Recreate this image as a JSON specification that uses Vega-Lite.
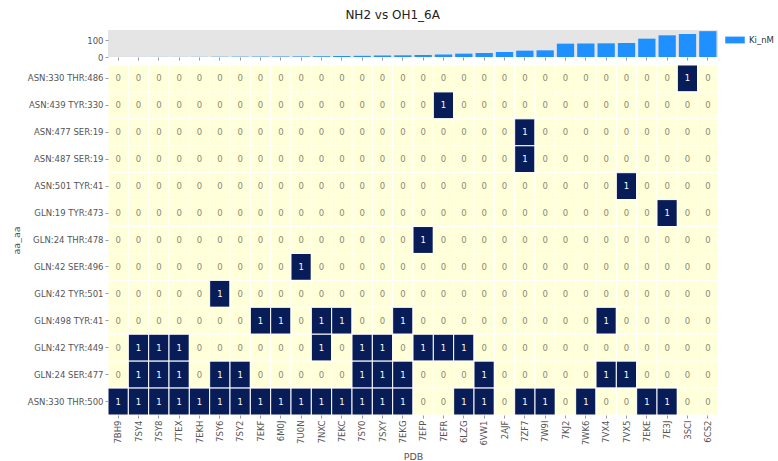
{
"$schema": "https://vega.github.io/schema/vega-lite/v6.json",
"padding": {"left": 11, "top": 9, "right": 2, "bottom": 4},
"config": {"font": "DejaVu Sans", "view": {"stroke": null},
 "axis": {"labelColor": "#555", "tickColor": "#999", "domain": false, "labelFontSize": 8.5, "titleFontSize": 9.5, "titleFontWeight": "normal", "titleColor": "#555", "tickSize": 3, "labelPadding": 2},
 "concat": {"spacing": 2}},
"title": {"text": "NH2 vs OH1_6A", "fontSize": 12, "fontWeight": "normal", "color": "#222", "anchor": "middle", "offset": 8},
"datasets": {
"ki": [
{"p":"7BH9","ki":0.2},{"p":"7SY4","ki":0.3},{"p":"7SY8","ki":0.4},{"p":"7TEX","ki":0.5},{"p":"7EKH","ki":0.8},
{"p":"7SY6","ki":1.5},{"p":"7SY2","ki":2},{"p":"7EKF","ki":2.5},{"p":"6M0J","ki":3},{"p":"7U0N","ki":3.5},
{"p":"7NXC","ki":4.5},{"p":"7EKC","ki":6},{"p":"7SY0","ki":7},{"p":"7SXY","ki":9},{"p":"7EKG","ki":10},
{"p":"7EFP","ki":12},{"p":"7EFR","ki":15},{"p":"6LZG","ki":20},{"p":"6VW1","ki":24},{"p":"2AJF","ki":30},
{"p":"7ZF7","ki":38},{"p":"7W9I","ki":40},{"p":"7KJ2","ki":80},{"p":"7WK6","ki":81},{"p":"7VX4","ki":82},
{"p":"7VX5","ki":84},{"p":"7EKE","ki":110},{"p":"7E3J","ki":130},{"p":"3SCI","ki":138},{"p":"6CS2","ki":155}
],
"cells": [
{"a":"ASN:330 THR:486","p":"7BH9","v":0},{"a":"ASN:330 THR:486","p":"7SY4","v":0},{"a":"ASN:330 THR:486","p":"7SY8","v":0},{"a":"ASN:330 THR:486","p":"7TEX","v":0},{"a":"ASN:330 THR:486","p":"7EKH","v":0},{"a":"ASN:330 THR:486","p":"7SY6","v":0},{"a":"ASN:330 THR:486","p":"7SY2","v":0},{"a":"ASN:330 THR:486","p":"7EKF","v":0},{"a":"ASN:330 THR:486","p":"6M0J","v":0},{"a":"ASN:330 THR:486","p":"7U0N","v":0},{"a":"ASN:330 THR:486","p":"7NXC","v":0},{"a":"ASN:330 THR:486","p":"7EKC","v":0},{"a":"ASN:330 THR:486","p":"7SY0","v":0},{"a":"ASN:330 THR:486","p":"7SXY","v":0},{"a":"ASN:330 THR:486","p":"7EKG","v":0},{"a":"ASN:330 THR:486","p":"7EFP","v":0},{"a":"ASN:330 THR:486","p":"7EFR","v":0},{"a":"ASN:330 THR:486","p":"6LZG","v":0},{"a":"ASN:330 THR:486","p":"6VW1","v":0},{"a":"ASN:330 THR:486","p":"2AJF","v":0},{"a":"ASN:330 THR:486","p":"7ZF7","v":0},{"a":"ASN:330 THR:486","p":"7W9I","v":0},{"a":"ASN:330 THR:486","p":"7KJ2","v":0},{"a":"ASN:330 THR:486","p":"7WK6","v":0},{"a":"ASN:330 THR:486","p":"7VX4","v":0},{"a":"ASN:330 THR:486","p":"7VX5","v":0},{"a":"ASN:330 THR:486","p":"7EKE","v":0},{"a":"ASN:330 THR:486","p":"7E3J","v":0},{"a":"ASN:330 THR:486","p":"3SCI","v":1},{"a":"ASN:330 THR:486","p":"6CS2","v":0},
{"a":"ASN:439 TYR:330","p":"7BH9","v":0},{"a":"ASN:439 TYR:330","p":"7SY4","v":0},{"a":"ASN:439 TYR:330","p":"7SY8","v":0},{"a":"ASN:439 TYR:330","p":"7TEX","v":0},{"a":"ASN:439 TYR:330","p":"7EKH","v":0},{"a":"ASN:439 TYR:330","p":"7SY6","v":0},{"a":"ASN:439 TYR:330","p":"7SY2","v":0},{"a":"ASN:439 TYR:330","p":"7EKF","v":0},{"a":"ASN:439 TYR:330","p":"6M0J","v":0},{"a":"ASN:439 TYR:330","p":"7U0N","v":0},{"a":"ASN:439 TYR:330","p":"7NXC","v":0},{"a":"ASN:439 TYR:330","p":"7EKC","v":0},{"a":"ASN:439 TYR:330","p":"7SY0","v":0},{"a":"ASN:439 TYR:330","p":"7SXY","v":0},{"a":"ASN:439 TYR:330","p":"7EKG","v":0},{"a":"ASN:439 TYR:330","p":"7EFP","v":0},{"a":"ASN:439 TYR:330","p":"7EFR","v":1},{"a":"ASN:439 TYR:330","p":"6LZG","v":0},{"a":"ASN:439 TYR:330","p":"6VW1","v":0},{"a":"ASN:439 TYR:330","p":"2AJF","v":0},{"a":"ASN:439 TYR:330","p":"7ZF7","v":0},{"a":"ASN:439 TYR:330","p":"7W9I","v":0},{"a":"ASN:439 TYR:330","p":"7KJ2","v":0},{"a":"ASN:439 TYR:330","p":"7WK6","v":0},{"a":"ASN:439 TYR:330","p":"7VX4","v":0},{"a":"ASN:439 TYR:330","p":"7VX5","v":0},{"a":"ASN:439 TYR:330","p":"7EKE","v":0},{"a":"ASN:439 TYR:330","p":"7E3J","v":0},{"a":"ASN:439 TYR:330","p":"3SCI","v":0},{"a":"ASN:439 TYR:330","p":"6CS2","v":0},
{"a":"ASN:477 SER:19","p":"7BH9","v":0},{"a":"ASN:477 SER:19","p":"7SY4","v":0},{"a":"ASN:477 SER:19","p":"7SY8","v":0},{"a":"ASN:477 SER:19","p":"7TEX","v":0},{"a":"ASN:477 SER:19","p":"7EKH","v":0},{"a":"ASN:477 SER:19","p":"7SY6","v":0},{"a":"ASN:477 SER:19","p":"7SY2","v":0},{"a":"ASN:477 SER:19","p":"7EKF","v":0},{"a":"ASN:477 SER:19","p":"6M0J","v":0},{"a":"ASN:477 SER:19","p":"7U0N","v":0},{"a":"ASN:477 SER:19","p":"7NXC","v":0},{"a":"ASN:477 SER:19","p":"7EKC","v":0},{"a":"ASN:477 SER:19","p":"7SY0","v":0},{"a":"ASN:477 SER:19","p":"7SXY","v":0},{"a":"ASN:477 SER:19","p":"7EKG","v":0},{"a":"ASN:477 SER:19","p":"7EFP","v":0},{"a":"ASN:477 SER:19","p":"7EFR","v":0},{"a":"ASN:477 SER:19","p":"6LZG","v":0},{"a":"ASN:477 SER:19","p":"6VW1","v":0},{"a":"ASN:477 SER:19","p":"2AJF","v":0},{"a":"ASN:477 SER:19","p":"7ZF7","v":1},{"a":"ASN:477 SER:19","p":"7W9I","v":0},{"a":"ASN:477 SER:19","p":"7KJ2","v":0},{"a":"ASN:477 SER:19","p":"7WK6","v":0},{"a":"ASN:477 SER:19","p":"7VX4","v":0},{"a":"ASN:477 SER:19","p":"7VX5","v":0},{"a":"ASN:477 SER:19","p":"7EKE","v":0},{"a":"ASN:477 SER:19","p":"7E3J","v":0},{"a":"ASN:477 SER:19","p":"3SCI","v":0},{"a":"ASN:477 SER:19","p":"6CS2","v":0},
{"a":"ASN:487 SER:19","p":"7BH9","v":0},{"a":"ASN:487 SER:19","p":"7SY4","v":0},{"a":"ASN:487 SER:19","p":"7SY8","v":0},{"a":"ASN:487 SER:19","p":"7TEX","v":0},{"a":"ASN:487 SER:19","p":"7EKH","v":0},{"a":"ASN:487 SER:19","p":"7SY6","v":0},{"a":"ASN:487 SER:19","p":"7SY2","v":0},{"a":"ASN:487 SER:19","p":"7EKF","v":0},{"a":"ASN:487 SER:19","p":"6M0J","v":0},{"a":"ASN:487 SER:19","p":"7U0N","v":0},{"a":"ASN:487 SER:19","p":"7NXC","v":0},{"a":"ASN:487 SER:19","p":"7EKC","v":0},{"a":"ASN:487 SER:19","p":"7SY0","v":0},{"a":"ASN:487 SER:19","p":"7SXY","v":0},{"a":"ASN:487 SER:19","p":"7EKG","v":0},{"a":"ASN:487 SER:19","p":"7EFP","v":0},{"a":"ASN:487 SER:19","p":"7EFR","v":0},{"a":"ASN:487 SER:19","p":"6LZG","v":0},{"a":"ASN:487 SER:19","p":"6VW1","v":0},{"a":"ASN:487 SER:19","p":"2AJF","v":0},{"a":"ASN:487 SER:19","p":"7ZF7","v":1},{"a":"ASN:487 SER:19","p":"7W9I","v":0},{"a":"ASN:487 SER:19","p":"7KJ2","v":0},{"a":"ASN:487 SER:19","p":"7WK6","v":0},{"a":"ASN:487 SER:19","p":"7VX4","v":0},{"a":"ASN:487 SER:19","p":"7VX5","v":0},{"a":"ASN:487 SER:19","p":"7EKE","v":0},{"a":"ASN:487 SER:19","p":"7E3J","v":0},{"a":"ASN:487 SER:19","p":"3SCI","v":0},{"a":"ASN:487 SER:19","p":"6CS2","v":0},
{"a":"ASN:501 TYR:41","p":"7BH9","v":0},{"a":"ASN:501 TYR:41","p":"7SY4","v":0},{"a":"ASN:501 TYR:41","p":"7SY8","v":0},{"a":"ASN:501 TYR:41","p":"7TEX","v":0},{"a":"ASN:501 TYR:41","p":"7EKH","v":0},{"a":"ASN:501 TYR:41","p":"7SY6","v":0},{"a":"ASN:501 TYR:41","p":"7SY2","v":0},{"a":"ASN:501 TYR:41","p":"7EKF","v":0},{"a":"ASN:501 TYR:41","p":"6M0J","v":0},{"a":"ASN:501 TYR:41","p":"7U0N","v":0},{"a":"ASN:501 TYR:41","p":"7NXC","v":0},{"a":"ASN:501 TYR:41","p":"7EKC","v":0},{"a":"ASN:501 TYR:41","p":"7SY0","v":0},{"a":"ASN:501 TYR:41","p":"7SXY","v":0},{"a":"ASN:501 TYR:41","p":"7EKG","v":0},{"a":"ASN:501 TYR:41","p":"7EFP","v":0},{"a":"ASN:501 TYR:41","p":"7EFR","v":0},{"a":"ASN:501 TYR:41","p":"6LZG","v":0},{"a":"ASN:501 TYR:41","p":"6VW1","v":0},{"a":"ASN:501 TYR:41","p":"2AJF","v":0},{"a":"ASN:501 TYR:41","p":"7ZF7","v":0},{"a":"ASN:501 TYR:41","p":"7W9I","v":0},{"a":"ASN:501 TYR:41","p":"7KJ2","v":0},{"a":"ASN:501 TYR:41","p":"7WK6","v":0},{"a":"ASN:501 TYR:41","p":"7VX4","v":0},{"a":"ASN:501 TYR:41","p":"7VX5","v":1},{"a":"ASN:501 TYR:41","p":"7EKE","v":0},{"a":"ASN:501 TYR:41","p":"7E3J","v":0},{"a":"ASN:501 TYR:41","p":"3SCI","v":0},{"a":"ASN:501 TYR:41","p":"6CS2","v":0},
{"a":"GLN:19 TYR:473","p":"7BH9","v":0},{"a":"GLN:19 TYR:473","p":"7SY4","v":0},{"a":"GLN:19 TYR:473","p":"7SY8","v":0},{"a":"GLN:19 TYR:473","p":"7TEX","v":0},{"a":"GLN:19 TYR:473","p":"7EKH","v":0},{"a":"GLN:19 TYR:473","p":"7SY6","v":0},{"a":"GLN:19 TYR:473","p":"7SY2","v":0},{"a":"GLN:19 TYR:473","p":"7EKF","v":0},{"a":"GLN:19 TYR:473","p":"6M0J","v":0},{"a":"GLN:19 TYR:473","p":"7U0N","v":0},{"a":"GLN:19 TYR:473","p":"7NXC","v":0},{"a":"GLN:19 TYR:473","p":"7EKC","v":0},{"a":"GLN:19 TYR:473","p":"7SY0","v":0},{"a":"GLN:19 TYR:473","p":"7SXY","v":0},{"a":"GLN:19 TYR:473","p":"7EKG","v":0},{"a":"GLN:19 TYR:473","p":"7EFP","v":0},{"a":"GLN:19 TYR:473","p":"7EFR","v":0},{"a":"GLN:19 TYR:473","p":"6LZG","v":0},{"a":"GLN:19 TYR:473","p":"6VW1","v":0},{"a":"GLN:19 TYR:473","p":"2AJF","v":0},{"a":"GLN:19 TYR:473","p":"7ZF7","v":0},{"a":"GLN:19 TYR:473","p":"7W9I","v":0},{"a":"GLN:19 TYR:473","p":"7KJ2","v":0},{"a":"GLN:19 TYR:473","p":"7WK6","v":0},{"a":"GLN:19 TYR:473","p":"7VX4","v":0},{"a":"GLN:19 TYR:473","p":"7VX5","v":0},{"a":"GLN:19 TYR:473","p":"7EKE","v":0},{"a":"GLN:19 TYR:473","p":"7E3J","v":1},{"a":"GLN:19 TYR:473","p":"3SCI","v":0},{"a":"GLN:19 TYR:473","p":"6CS2","v":0},
{"a":"GLN:24 THR:478","p":"7BH9","v":0},{"a":"GLN:24 THR:478","p":"7SY4","v":0},{"a":"GLN:24 THR:478","p":"7SY8","v":0},{"a":"GLN:24 THR:478","p":"7TEX","v":0},{"a":"GLN:24 THR:478","p":"7EKH","v":0},{"a":"GLN:24 THR:478","p":"7SY6","v":0},{"a":"GLN:24 THR:478","p":"7SY2","v":0},{"a":"GLN:24 THR:478","p":"7EKF","v":0},{"a":"GLN:24 THR:478","p":"6M0J","v":0},{"a":"GLN:24 THR:478","p":"7U0N","v":0},{"a":"GLN:24 THR:478","p":"7NXC","v":0},{"a":"GLN:24 THR:478","p":"7EKC","v":0},{"a":"GLN:24 THR:478","p":"7SY0","v":0},{"a":"GLN:24 THR:478","p":"7SXY","v":0},{"a":"GLN:24 THR:478","p":"7EKG","v":0},{"a":"GLN:24 THR:478","p":"7EFP","v":1},{"a":"GLN:24 THR:478","p":"7EFR","v":0},{"a":"GLN:24 THR:478","p":"6LZG","v":0},{"a":"GLN:24 THR:478","p":"6VW1","v":0},{"a":"GLN:24 THR:478","p":"2AJF","v":0},{"a":"GLN:24 THR:478","p":"7ZF7","v":0},{"a":"GLN:24 THR:478","p":"7W9I","v":0},{"a":"GLN:24 THR:478","p":"7KJ2","v":0},{"a":"GLN:24 THR:478","p":"7WK6","v":0},{"a":"GLN:24 THR:478","p":"7VX4","v":0},{"a":"GLN:24 THR:478","p":"7VX5","v":0},{"a":"GLN:24 THR:478","p":"7EKE","v":0},{"a":"GLN:24 THR:478","p":"7E3J","v":0},{"a":"GLN:24 THR:478","p":"3SCI","v":0},{"a":"GLN:24 THR:478","p":"6CS2","v":0},
{"a":"GLN:42 SER:496","p":"7BH9","v":0},{"a":"GLN:42 SER:496","p":"7SY4","v":0},{"a":"GLN:42 SER:496","p":"7SY8","v":0},{"a":"GLN:42 SER:496","p":"7TEX","v":0},{"a":"GLN:42 SER:496","p":"7EKH","v":0},{"a":"GLN:42 SER:496","p":"7SY6","v":0},{"a":"GLN:42 SER:496","p":"7SY2","v":0},{"a":"GLN:42 SER:496","p":"7EKF","v":0},{"a":"GLN:42 SER:496","p":"6M0J","v":0},{"a":"GLN:42 SER:496","p":"7U0N","v":1},{"a":"GLN:42 SER:496","p":"7NXC","v":0},{"a":"GLN:42 SER:496","p":"7EKC","v":0},{"a":"GLN:42 SER:496","p":"7SY0","v":0},{"a":"GLN:42 SER:496","p":"7SXY","v":0},{"a":"GLN:42 SER:496","p":"7EKG","v":0},{"a":"GLN:42 SER:496","p":"7EFP","v":0},{"a":"GLN:42 SER:496","p":"7EFR","v":0},{"a":"GLN:42 SER:496","p":"6LZG","v":0},{"a":"GLN:42 SER:496","p":"6VW1","v":0},{"a":"GLN:42 SER:496","p":"2AJF","v":0},{"a":"GLN:42 SER:496","p":"7ZF7","v":0},{"a":"GLN:42 SER:496","p":"7W9I","v":0},{"a":"GLN:42 SER:496","p":"7KJ2","v":0},{"a":"GLN:42 SER:496","p":"7WK6","v":0},{"a":"GLN:42 SER:496","p":"7VX4","v":0},{"a":"GLN:42 SER:496","p":"7VX5","v":0},{"a":"GLN:42 SER:496","p":"7EKE","v":0},{"a":"GLN:42 SER:496","p":"7E3J","v":0},{"a":"GLN:42 SER:496","p":"3SCI","v":0},{"a":"GLN:42 SER:496","p":"6CS2","v":0},
{"a":"GLN:42 TYR:501","p":"7BH9","v":0},{"a":"GLN:42 TYR:501","p":"7SY4","v":0},{"a":"GLN:42 TYR:501","p":"7SY8","v":0},{"a":"GLN:42 TYR:501","p":"7TEX","v":0},{"a":"GLN:42 TYR:501","p":"7EKH","v":0},{"a":"GLN:42 TYR:501","p":"7SY6","v":1},{"a":"GLN:42 TYR:501","p":"7SY2","v":0},{"a":"GLN:42 TYR:501","p":"7EKF","v":0},{"a":"GLN:42 TYR:501","p":"6M0J","v":0},{"a":"GLN:42 TYR:501","p":"7U0N","v":0},{"a":"GLN:42 TYR:501","p":"7NXC","v":0},{"a":"GLN:42 TYR:501","p":"7EKC","v":0},{"a":"GLN:42 TYR:501","p":"7SY0","v":0},{"a":"GLN:42 TYR:501","p":"7SXY","v":0},{"a":"GLN:42 TYR:501","p":"7EKG","v":0},{"a":"GLN:42 TYR:501","p":"7EFP","v":0},{"a":"GLN:42 TYR:501","p":"7EFR","v":0},{"a":"GLN:42 TYR:501","p":"6LZG","v":0},{"a":"GLN:42 TYR:501","p":"6VW1","v":0},{"a":"GLN:42 TYR:501","p":"2AJF","v":0},{"a":"GLN:42 TYR:501","p":"7ZF7","v":0},{"a":"GLN:42 TYR:501","p":"7W9I","v":0},{"a":"GLN:42 TYR:501","p":"7KJ2","v":0},{"a":"GLN:42 TYR:501","p":"7WK6","v":0},{"a":"GLN:42 TYR:501","p":"7VX4","v":0},{"a":"GLN:42 TYR:501","p":"7VX5","v":0},{"a":"GLN:42 TYR:501","p":"7EKE","v":0},{"a":"GLN:42 TYR:501","p":"7E3J","v":0},{"a":"GLN:42 TYR:501","p":"3SCI","v":0},{"a":"GLN:42 TYR:501","p":"6CS2","v":0},
{"a":"GLN:498 TYR:41","p":"7BH9","v":0},{"a":"GLN:498 TYR:41","p":"7SY4","v":0},{"a":"GLN:498 TYR:41","p":"7SY8","v":0},{"a":"GLN:498 TYR:41","p":"7TEX","v":0},{"a":"GLN:498 TYR:41","p":"7EKH","v":0},{"a":"GLN:498 TYR:41","p":"7SY6","v":0},{"a":"GLN:498 TYR:41","p":"7SY2","v":0},{"a":"GLN:498 TYR:41","p":"7EKF","v":1},{"a":"GLN:498 TYR:41","p":"6M0J","v":1},{"a":"GLN:498 TYR:41","p":"7U0N","v":0},{"a":"GLN:498 TYR:41","p":"7NXC","v":1},{"a":"GLN:498 TYR:41","p":"7EKC","v":1},{"a":"GLN:498 TYR:41","p":"7SY0","v":0},{"a":"GLN:498 TYR:41","p":"7SXY","v":0},{"a":"GLN:498 TYR:41","p":"7EKG","v":1},{"a":"GLN:498 TYR:41","p":"7EFP","v":0},{"a":"GLN:498 TYR:41","p":"7EFR","v":0},{"a":"GLN:498 TYR:41","p":"6LZG","v":0},{"a":"GLN:498 TYR:41","p":"6VW1","v":0},{"a":"GLN:498 TYR:41","p":"2AJF","v":0},{"a":"GLN:498 TYR:41","p":"7ZF7","v":0},{"a":"GLN:498 TYR:41","p":"7W9I","v":0},{"a":"GLN:498 TYR:41","p":"7KJ2","v":0},{"a":"GLN:498 TYR:41","p":"7WK6","v":0},{"a":"GLN:498 TYR:41","p":"7VX4","v":1},{"a":"GLN:498 TYR:41","p":"7VX5","v":0},{"a":"GLN:498 TYR:41","p":"7EKE","v":0},{"a":"GLN:498 TYR:41","p":"7E3J","v":0},{"a":"GLN:498 TYR:41","p":"3SCI","v":0},{"a":"GLN:498 TYR:41","p":"6CS2","v":0},
{"a":"GLN:42 TYR:449","p":"7BH9","v":0},{"a":"GLN:42 TYR:449","p":"7SY4","v":1},{"a":"GLN:42 TYR:449","p":"7SY8","v":1},{"a":"GLN:42 TYR:449","p":"7TEX","v":1},{"a":"GLN:42 TYR:449","p":"7EKH","v":0},{"a":"GLN:42 TYR:449","p":"7SY6","v":0},{"a":"GLN:42 TYR:449","p":"7SY2","v":0},{"a":"GLN:42 TYR:449","p":"7EKF","v":0},{"a":"GLN:42 TYR:449","p":"6M0J","v":0},{"a":"GLN:42 TYR:449","p":"7U0N","v":0},{"a":"GLN:42 TYR:449","p":"7NXC","v":1},{"a":"GLN:42 TYR:449","p":"7EKC","v":0},{"a":"GLN:42 TYR:449","p":"7SY0","v":1},{"a":"GLN:42 TYR:449","p":"7SXY","v":1},{"a":"GLN:42 TYR:449","p":"7EKG","v":0},{"a":"GLN:42 TYR:449","p":"7EFP","v":1},{"a":"GLN:42 TYR:449","p":"7EFR","v":1},{"a":"GLN:42 TYR:449","p":"6LZG","v":1},{"a":"GLN:42 TYR:449","p":"6VW1","v":0},{"a":"GLN:42 TYR:449","p":"2AJF","v":0},{"a":"GLN:42 TYR:449","p":"7ZF7","v":0},{"a":"GLN:42 TYR:449","p":"7W9I","v":0},{"a":"GLN:42 TYR:449","p":"7KJ2","v":0},{"a":"GLN:42 TYR:449","p":"7WK6","v":0},{"a":"GLN:42 TYR:449","p":"7VX4","v":0},{"a":"GLN:42 TYR:449","p":"7VX5","v":0},{"a":"GLN:42 TYR:449","p":"7EKE","v":0},{"a":"GLN:42 TYR:449","p":"7E3J","v":0},{"a":"GLN:42 TYR:449","p":"3SCI","v":0},{"a":"GLN:42 TYR:449","p":"6CS2","v":0},
{"a":"GLN:24 SER:477","p":"7BH9","v":0},{"a":"GLN:24 SER:477","p":"7SY4","v":1},{"a":"GLN:24 SER:477","p":"7SY8","v":1},{"a":"GLN:24 SER:477","p":"7TEX","v":1},{"a":"GLN:24 SER:477","p":"7EKH","v":0},{"a":"GLN:24 SER:477","p":"7SY6","v":1},{"a":"GLN:24 SER:477","p":"7SY2","v":1},{"a":"GLN:24 SER:477","p":"7EKF","v":0},{"a":"GLN:24 SER:477","p":"6M0J","v":0},{"a":"GLN:24 SER:477","p":"7U0N","v":0},{"a":"GLN:24 SER:477","p":"7NXC","v":0},{"a":"GLN:24 SER:477","p":"7EKC","v":0},{"a":"GLN:24 SER:477","p":"7SY0","v":1},{"a":"GLN:24 SER:477","p":"7SXY","v":1},{"a":"GLN:24 SER:477","p":"7EKG","v":1},{"a":"GLN:24 SER:477","p":"7EFP","v":0},{"a":"GLN:24 SER:477","p":"7EFR","v":0},{"a":"GLN:24 SER:477","p":"6LZG","v":0},{"a":"GLN:24 SER:477","p":"6VW1","v":1},{"a":"GLN:24 SER:477","p":"2AJF","v":0},{"a":"GLN:24 SER:477","p":"7ZF7","v":0},{"a":"GLN:24 SER:477","p":"7W9I","v":0},{"a":"GLN:24 SER:477","p":"7KJ2","v":0},{"a":"GLN:24 SER:477","p":"7WK6","v":0},{"a":"GLN:24 SER:477","p":"7VX4","v":1},{"a":"GLN:24 SER:477","p":"7VX5","v":1},{"a":"GLN:24 SER:477","p":"7EKE","v":0},{"a":"GLN:24 SER:477","p":"7E3J","v":0},{"a":"GLN:24 SER:477","p":"3SCI","v":0},{"a":"GLN:24 SER:477","p":"6CS2","v":0},
{"a":"ASN:330 THR:500","p":"7BH9","v":1},{"a":"ASN:330 THR:500","p":"7SY4","v":1},{"a":"ASN:330 THR:500","p":"7SY8","v":1},{"a":"ASN:330 THR:500","p":"7TEX","v":1},{"a":"ASN:330 THR:500","p":"7EKH","v":1},{"a":"ASN:330 THR:500","p":"7SY6","v":1},{"a":"ASN:330 THR:500","p":"7SY2","v":1},{"a":"ASN:330 THR:500","p":"7EKF","v":1},{"a":"ASN:330 THR:500","p":"6M0J","v":1},{"a":"ASN:330 THR:500","p":"7U0N","v":1},{"a":"ASN:330 THR:500","p":"7NXC","v":1},{"a":"ASN:330 THR:500","p":"7EKC","v":1},{"a":"ASN:330 THR:500","p":"7SY0","v":1},{"a":"ASN:330 THR:500","p":"7SXY","v":1},{"a":"ASN:330 THR:500","p":"7EKG","v":1},{"a":"ASN:330 THR:500","p":"7EFP","v":0},{"a":"ASN:330 THR:500","p":"7EFR","v":0},{"a":"ASN:330 THR:500","p":"6LZG","v":1},{"a":"ASN:330 THR:500","p":"6VW1","v":1},{"a":"ASN:330 THR:500","p":"2AJF","v":0},{"a":"ASN:330 THR:500","p":"7ZF7","v":1},{"a":"ASN:330 THR:500","p":"7W9I","v":1},{"a":"ASN:330 THR:500","p":"7KJ2","v":0},{"a":"ASN:330 THR:500","p":"7WK6","v":1},{"a":"ASN:330 THR:500","p":"7VX4","v":0},{"a":"ASN:330 THR:500","p":"7VX5","v":0},{"a":"ASN:330 THR:500","p":"7EKE","v":1},{"a":"ASN:330 THR:500","p":"7E3J","v":1},{"a":"ASN:330 THR:500","p":"3SCI","v":0},{"a":"ASN:330 THR:500","p":"6CS2","v":0}
]
},
"vconcat": [
{
 "width": 610, "height": 27,
 "data": {"name": "ki"},
 "view": {"fill": "#e5e5e5", "stroke": null},
 "mark": {"type": "bar"},
 "encoding": {
  "x": {"field": "p", "type": "nominal", "sort": null, "scale": {"paddingInner": 0.15, "paddingOuter": 0.075}, "axis": {"labels": false, "title": null, "ticks": true}},
  "y": {"field": "ki", "type": "quantitative", "scale": {"domain": [0, 162], "nice": false}, "axis": {"values": [0, 100], "title": null, "grid": false}},
  "color": {"datum": "Ki_nM", "scale": {"range": ["#1e90ff"]}, "legend": {"title": null, "orient": "right", "offset": 6, "symbolType": "M-1,-0.35H1V0.35H-1Z", "symbolSize": 380, "symbolStrokeWidth": 0, "labelFontSize": 8.5, "labelColor": "#333", "padding": 0}}
 }
},
{
 "width": 610, "height": 350,
 "data": {"name": "cells"},
 "encoding": {
  "x": {"field": "p", "type": "nominal", "sort": null, "axis": {"title": "PDB", "labelAngle": -90, "titlePadding": 6}},
  "y": {"field": "a", "type": "nominal", "sort": null, "axis": {"title": "aa_aa", "titlePadding": 6}}
 },
 "layer": [
  {"mark": {"type": "rect", "stroke": "white", "strokeWidth": 1},
   "encoding": {"fill": {"condition": {"test": "datum.v == 1", "value": "#081d58"}, "value": "#ffffd9"}}},
  {"mark": {"type": "text", "fontSize": 8.5},
   "encoding": {"text": {"field": "v", "type": "quantitative"}, "color": {"condition": {"test": "datum.v == 1", "value": "#ffffff"}, "value": "#8a8a78"}}}
 ]
}
]
}
